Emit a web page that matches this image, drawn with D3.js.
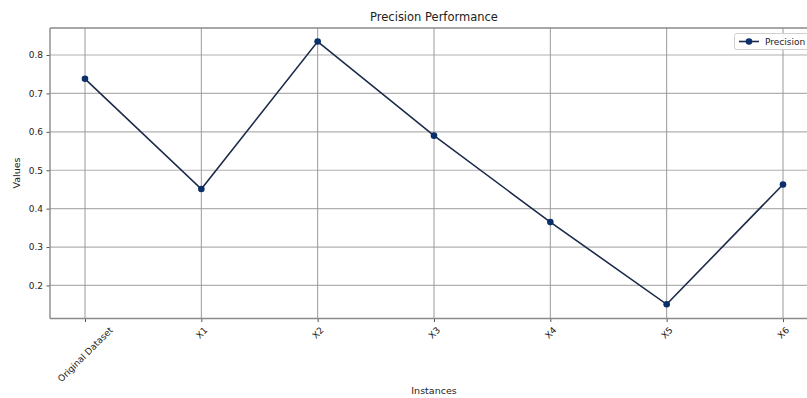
<!DOCTYPE html>
<html><head><meta charset="utf-8">
<script src="https://cdn.jsdelivr.net/npm/d3@7"></script>
<style>body{margin:0;background:#fff}svg{display:block}text{font-family:"DejaVu Sans",sans-serif}</style>
</head><body>
<script>
const categories = ["Original Dataset","X1","X2","X3","X4","X5","X6"];
const precision = [0.738,0.451,0.835,0.590,0.365,0.151,0.463];
const yTicks = [0.2,0.3,0.4,0.5,0.6,0.7,0.8];
const seriesName = "Precision";

const W=807,H=398;
const m={l:50,t:28,r:818,b:318.5};
const svg=d3.select("body").append("svg").attr("width",W).attr("height",H);

const x=d3.scalePoint().domain(categories).range([85,783]);
const y=d3.scaleLinear().domain([0.114,0.8703]).range([m.b,m.t]);

const g=svg.append("g");
// grid
g.selectAll(".hg").data(yTicks).join("line")
 .attr("x1",m.l).attr("x2",m.r).attr("y1",d=>y(d)).attr("y2",d=>y(d))
 .attr("stroke","#b0b0b0").attr("stroke-width",1.2);
g.selectAll(".vg").data(categories).join("line")
 .attr("x1",d=>x(d)).attr("x2",d=>x(d)).attr("y1",m.t).attr("y2",m.b)
 .attr("stroke","#9a9a9a").attr("stroke-width",1);

// axes
const yAxis=svg.append("g").attr("transform",`translate(${m.l},0)`)
 .call(d3.axisLeft(y).tickValues(yTicks).tickFormat(d3.format(".1f")).tickSize(3.5).tickPadding(3.5));
const xAxis=svg.append("g").attr("transform",`translate(0,${m.b})`)
 .call(d3.axisBottom(x).tickSize(3.5).tickPadding(3));
[yAxis,xAxis].forEach(a=>{a.select(".domain").remove();a.selectAll("line").attr("stroke","#555");a.selectAll("text").attr("fill","#222").style("font-size","9px").style("font-family","DejaVu Sans");});
xAxis.selectAll("text").each(function(){
  const t=d3.select(this);
  const w=this.getComputedTextLength();
  const h=9;
  const off=7+(w+h)*0.3536;
  t.attr("text-anchor","middle").attr("dy","0.32em").attr("y",0).attr("x",0)
   .attr("transform",`translate(0,${off}) rotate(-45)`);
});

// frame
svg.append("line").attr("x1",m.l).attr("x2",m.l).attr("y1",m.t).attr("y2",m.b).attr("stroke","#8a8a8a").attr("stroke-width",1.4);
svg.append("line").attr("x1",m.l).attr("x2",m.r).attr("y1",m.b).attr("y2",m.b).attr("stroke","#8a8a8a").attr("stroke-width",1.4);
svg.append("line").attr("x1",m.l).attr("x2",m.r).attr("y1",m.t).attr("y2",m.t).attr("stroke","#8a8a8a").attr("stroke-width",1.4);

// line
const line=d3.line().x((d,i)=>x(categories[i])).y(d=>y(d));
svg.append("path").datum(precision).attr("d",line).attr("fill","none").attr("stroke","#1c2b4a").attr("stroke-width",1.6);
svg.selectAll(".pt").data(precision).join("circle")
 .attr("cx",(d,i)=>x(categories[i])).attr("cy",d=>y(d)).attr("r",3.3).attr("fill","#0b2f6b");

// labels
svg.append("text").attr("x",434).attr("y",21).attr("text-anchor","middle").style("font-size","11.5px").attr("fill","#222").text("Precision Performance");
svg.append("text").attr("x",434).attr("y",394).attr("text-anchor","middle").style("font-size","9.5px").attr("fill","#222").text("Instances");
svg.append("text").attr("transform","translate(20,173) rotate(-90)").attr("text-anchor","middle").style("font-size","9.5px").attr("fill","#222").text("Values");

// legend
const lg=svg.append("g");
lg.append("rect").attr("x",734.5).attr("y",33.5).attr("width",90).attr("height",16).attr("rx",2).attr("fill","#fff").attr("fill-opacity",0.85).attr("stroke","#d0d0d0");
lg.append("line").attr("x1",739).attr("x2",759).attr("y1",41.5).attr("y2",41.5).attr("stroke","#1c2b4a").attr("stroke-width",1.6);
lg.append("circle").attr("cx",749).attr("cy",41.5).attr("r",3.3).attr("fill","#0b2f6b");
lg.append("text").attr("x",765).attr("y",44.8).style("font-size","9px").attr("fill","#222").text(seriesName);
</script>
</body></html>
